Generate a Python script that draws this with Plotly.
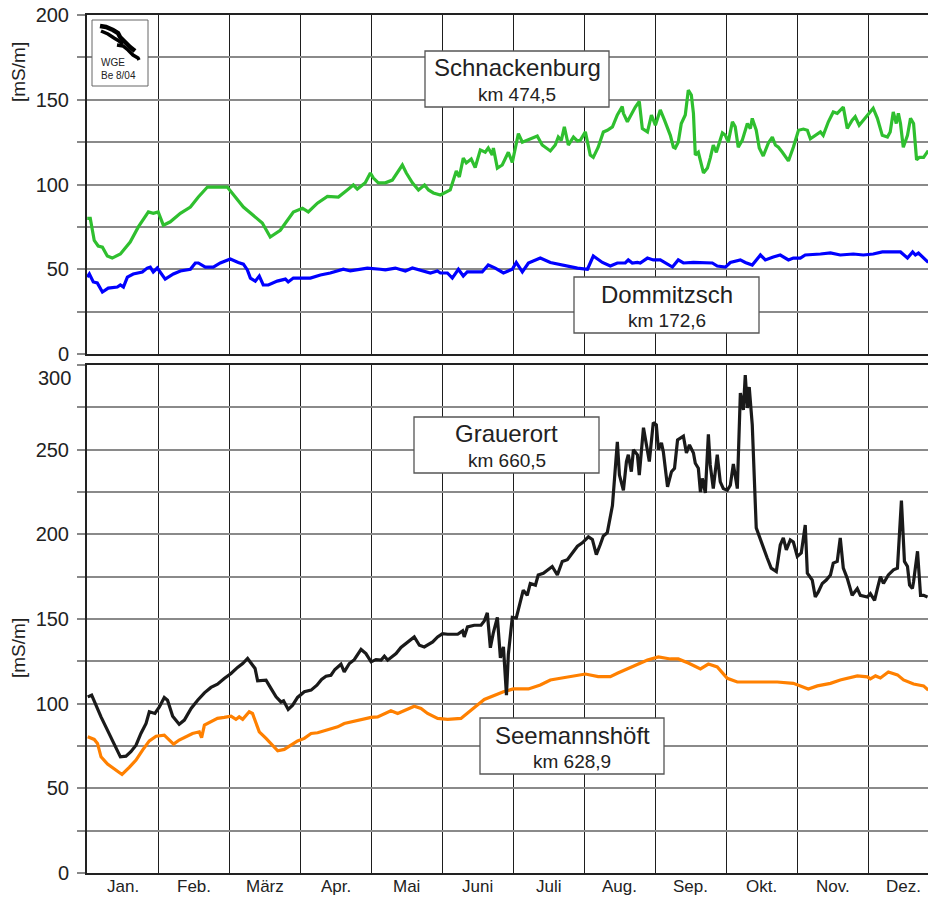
import plotly.graph_objects as go

# ---------------- data (day of year, conductivity mS/m) ----------------
month_labels = ["Jan.", "Feb.", "März", "Apr.", "Mai", "Juni", "Juli", "Aug.", "Sep.", "Okt.", "Nov.", "Dez."]

schn_day = [0.1, 1.4, 3.1, 4.8, 6.6, 8.7, 10.8, 14.3, 18.5, 22, 26.3, 28.4, 30.5, 32.7, 35.7, 40, 44.3, 47.7, 51.6, 60.1,
            67, 75.1, 78.5, 82.8, 88.4, 92.3, 94.8, 98.7, 103, 107.7, 111.5, 114.1, 115.8, 119.2, 121.4, 122.7, 124.8,
            127.8, 130.8, 132.9, 135.1, 136.8, 139.4, 142, 144.6, 146.3, 148.4, 151.4, 154.4, 155.6, 158.2, 159.5, 161.2,
            162.5, 164.6, 166.3, 168.5, 170.6, 171.9, 173.6, 174.1, 175.8, 177.9, 180.5, 182.2, 184.8, 186.5, 192.9, 195,
            198.5, 200.6, 201.9, 203.2, 204.5, 206.2, 208.4, 210.1, 211.3, 213.5, 215.6, 216.9, 219, 221.2, 222.9, 225.1,
            227.2, 229.3, 229.8, 231.5, 233.6, 234.9, 236.6, 237.9, 240.1, 241.8, 243.5, 245.6, 247.4, 249.9, 251.2, 252,
            253.3, 254.6, 256.3, 257.6, 258.9, 259.8, 260.6, 261.9, 264.1, 265.8, 267, 268.3, 269.6, 272.2, 273.5, 274.7,
            276.5, 277.7, 279, 280.7, 282.9, 284.2, 285, 286.7, 288, 289.7, 291.9, 293.6, 294.9, 296.2, 297.9, 300.5,
            302.6, 304.8, 306.9, 308.6, 309.9, 312, 314.2, 315.4, 317.6, 319.7, 321.4, 324, 325.7, 327.8, 329.1, 330.8,
            333.4, 335.5, 336.8, 338.6, 340.7, 342.9, 344.1, 345.4, 346.7, 347.6, 348.5, 349.7, 351.5, 352.8, 354.1,
            355.4, 356.6, 358.4, 360.4]
schn_val = [80, 80, 67, 63.7, 63, 57.8, 56.6, 59, 66, 75, 83.8, 83, 83.8, 76, 78, 83, 86.7, 92.6, 98.5, 98.5,
            86.7, 77.3, 69, 73, 83.8, 86, 83.8, 89, 93, 92.6, 96.8, 99.7, 97.3, 101, 106.8, 103.8, 101,
            101, 102.6, 107, 111.5, 106.8, 101, 96.8, 99.7, 96.8, 95, 93.8, 95.6, 96.8, 108, 104.4, 115.6,
            112.7, 115, 110, 120.4, 119, 121.5, 117.4, 121.5, 109.7, 111.5, 119, 113, 130, 125, 128.6, 123.3,
            119.8, 123.3, 128, 126, 134, 123.3, 128, 125.7, 126, 131, 117.4, 116, 122, 131, 132, 134,
            141, 146, 142, 137, 143, 145.7, 149, 133, 131, 141, 135, 144, 138, 129, 122, 121.5,
            125, 136, 141, 155.7, 152.8, 142, 117.4, 119, 106.8, 109.7, 115.6, 123.3, 119, 130.4, 129, 125,
            137, 134, 122, 126, 136, 133, 139, 132, 121.5, 116.8, 124.5, 128, 123.3, 122, 119, 113.9,
            122, 132, 132.7, 132, 127, 129, 131, 129, 137, 142.8, 142, 145.7, 133, 138, 140, 135,
            139, 142.8, 145, 139, 129, 128, 131, 142.8, 136, 142, 136, 122, 129, 139, 136,
            114.5, 116, 116, 120]

domm_day = [0.1, 1, 2.7, 4.4, 6.6, 9.1, 13, 14.3, 15.6, 17.3, 19.8, 23.7, 25.8, 27.1, 28.4, 30.1, 33.5, 37, 40, 44.3,
            46.4, 47.7, 50.7, 54.1, 57.1, 61.4, 64.8, 67, 68.7, 70, 72.1, 73.8, 75.5, 77.7, 81.5, 85, 86.2, 88.4, 95.7,
            100, 104.2, 109.8, 112.8, 120.1, 125.6, 127.8, 132.1, 136.4, 139.4, 142.8, 147.1, 150.1, 151.4, 154.4,
            156.5, 159.1, 161.2, 162.9, 169.3, 171.9, 174.9, 178.4, 182.2, 183.9, 186.5, 189.1, 194.2, 198.5, 210.1,
            214.4, 216.9, 220.8, 224.2, 227.2, 230.6, 231.9, 233.6, 235.8, 237, 240.1, 242.6, 245.6, 247.8, 250.8,
            253.3, 255.5, 259.8, 264.1, 267.9, 270, 273.5, 275.6, 279.9, 282, 285, 288.5, 290.6, 294, 297, 300.5,
            302.6, 305.6, 307.7, 314.2, 318.5, 322.7, 328.3, 332.6, 336.8, 340.7, 348.5, 351.5, 353.7, 354.9, 356.2,
            360.4]
domm_val = [45.4, 47.2, 42.5, 41.9, 36.6, 38.9, 39.5, 40.7, 39.5, 45.4, 47.2, 48.4, 50.7, 51.3, 48.4, 50.7, 44.2, 47.2, 49, 50,
            53.7, 53.7, 51.3, 51.3, 53.7, 56, 54, 53, 49.6, 44.8, 43, 46, 40.7, 40.7, 43, 44.2, 42.5, 44.8, 44.8,
            46.6, 47.8, 50, 49, 50.7, 50, 49.6, 50.7, 49, 50.7, 49.6, 47.8, 49, 47.8, 47.8,
            44.8, 50, 46, 48.4, 48.4, 52.5, 50.7, 47.8, 50, 54, 48.4, 53.7, 56.6, 54, 50.7,
            50, 57.8, 54, 51.9, 53.7, 53.7, 55.5, 53.7, 54, 53.7, 56.6, 55.5, 55.5, 53.7, 51.3,
            55.5, 53.7, 54, 53.7, 53.7, 51.9, 51.3, 54, 55.5, 54, 52.5, 58.4, 55.5, 57.2, 58.4, 55.5,
            56.6, 56.6, 58.4, 59, 59.6, 58.4, 59, 58.4, 59, 60.2, 60.2, 56.6, 60.2, 58.4, 59.6,
            54]

grau_day = [0.3, 2, 6, 10.3, 14.3, 16.7, 18.8, 21, 23.1, 25.3, 26.7, 29.1, 31, 33.1, 34.5, 36.7, 39.5, 41.7, 44.6, 47.4,
            50.3, 53.1, 55.9, 58.8, 61.7, 64.5, 66.7, 68.8, 70.3, 72, 73.1, 76.7, 78.8, 81, 83.1, 84.2, 86.2, 88.1, 90.2,
            93.1, 96, 98.5, 100.5, 102.4, 104.5, 106.2, 108.8, 110.2, 112.4, 114.5, 117.4, 119.5, 121.7, 123.8, 126,
            127.4, 128.8, 132.4, 134.5, 136.7, 140.2, 142.4, 144.5, 148.1, 150.2, 152.3, 154.5, 158.8, 160.9, 161.6,
            163, 165.9, 168.8, 170.2, 171.5, 172.8, 174.1, 175.8, 177.1, 178.4, 179.7, 180.5, 182.2, 183.9, 186.9,
            188.6, 189.9, 192.1, 193.3, 195.5, 199.3, 201.5, 203.6, 205.8, 207.9, 210.1, 212.2, 214.8, 216.5, 218.2,
            219.9, 221.2, 222.9, 225.1, 226, 227.2, 228.1, 229.8, 231.1, 231.9, 233.2, 234.1, 235.8, 236.6, 238.4,
            240.1, 240.9, 242.6, 243.9, 244.8, 246.1, 246.9, 248.7, 250.4, 251.7, 253, 255.5, 256.8, 258.1, 259.8,
            260.6, 261.9, 262.8, 263.6, 264.9, 266.2, 267, 268.3, 270, 271.3, 272.6, 274.3, 275.6, 276.9, 278.6,
            279.9, 281.2, 282, 282.9, 283.7, 285, 286.7, 288.5, 289.7, 291.4, 293.1, 295.3, 297, 298.3, 299.6,
            301.3, 302.6, 304.3, 306, 307.7, 308.6, 310.7, 312, 313.3, 315, 316.7, 318.5, 319.7, 321.4, 322.7,
            324, 325.7, 327.8, 330, 331.3, 334.3, 335.6, 337.4, 338.6, 339.9, 341.2, 343.3, 345.5, 347.2, 348.9,
            350.2, 351.5, 352.4, 353.6, 354.1, 355.8, 357.1, 358.4, 360.1]
grau_val = [104, 105, 92.2, 80.4, 68.6, 69, 71.6, 75.5, 82.4, 88.3, 95.2, 94.2, 98.1, 103.6, 102, 92.6, 87.9, 90.3, 97.2, 102,
            106.4, 109.6, 111.5, 114.9, 117.8, 121.4, 123.7, 126.7, 123.7, 120.8, 113.5, 113.9, 109, 104, 101, 101.7, 96.6, 99.1, 103.7,
            107, 108, 110.9, 114.3, 116.2, 116.8, 120.2, 123.3, 118.8, 123.7, 126, 132, 129.6, 124.7, 126, 125.7,
            128, 125.7, 129.6, 133.2, 135.5, 139.4, 134.5, 133.5, 136.5, 139.4, 141.4, 141, 141, 143, 139.4,
            145.3, 146.3, 146.3, 148.8, 153.6, 133, 142, 151, 127, 133.5, 105, 129, 151, 150.6, 167,
            164, 171, 170, 176, 177, 181, 176, 184, 185, 189, 193, 195, 198.5, 197, 188,
            194, 199, 201, 217, 233, 254.6, 235, 226, 243, 247, 237, 250, 247, 235, 263,
            248, 243, 266, 264.6, 250, 254, 248.7, 228, 237, 239, 255.7, 258, 248, 252.8, 248,
            242, 239, 225, 233, 224.5, 259, 241, 227, 247, 231, 227, 226, 229, 241.6, 227,
            283.5, 273.5, 294, 274.6, 287, 264.6, 203.8, 196.7, 192, 186, 180, 178, 193.7, 197.9, 190.8,
            196.7, 195.5, 187, 189, 205.5, 177, 173, 163, 166, 171, 173, 176, 183, 184, 197.9,
            180, 174, 164, 168, 164, 163, 165, 161, 168, 175, 171, 176, 179, 180, 220,
            184, 181, 170, 168, 172, 190, 164, 164, 163]

seem_day = [0.3, 3.1, 4.5, 6, 8.8, 11.7, 15, 18.1, 21, 23.8, 26.7, 29.6, 33.1, 35.3, 37.1, 39.5, 42.4, 45.2, 48.1, 49.1,
            50.3, 53.1, 55.9, 58.8, 61.7, 63.8, 65.2, 66.7, 69.5, 70.9, 72.4, 73.8, 76.7, 79.5, 81.7, 84.5, 87.4, 90.2,
            93.1, 96, 98.8, 101.7, 104.5, 107.4, 110.2, 113.1, 115.9, 118.8, 121.7, 124.5, 127.4, 130.2, 133.1, 135.9,
            140.2, 143.1, 145.9, 150.2, 154.5, 160.2, 163, 166.6, 170.2, 174.9, 178.4, 182.6, 189.1, 194.2, 198.5,
            202.8, 207, 213.5, 219, 224.2, 227.2, 231.5, 235.8, 240.1, 244.8, 249.9, 253.3, 257.6, 262.8, 266.2, 270,
            274.3, 278.6, 285.5, 295.7, 302.6, 309, 312.9, 318.5, 322.7, 330, 334.3, 335.6, 337.8, 339.9, 343.3,
            347.2, 349.8, 354.1, 358.4, 360.4]
seem_val = [80.4, 78.9, 76.5, 68.6, 64.3, 61.2, 58.2, 62.4, 66.7, 72.6, 78, 80.8, 81.4, 78.5, 76.1, 78.5, 80.4, 82.4, 83.4, 80,
            87.3, 89.3, 91.3, 91.9, 92.6, 90.7, 92.2, 90.7, 95.2, 94.2, 88.3, 83.4, 79.5, 75.5, 72.2, 73, 75.5, 78,
            79.5, 82.4, 82.8, 84, 85.4, 86.3, 88.3, 89.3, 89.9, 91.3, 91.9, 92.2, 93.8, 95.8, 94.2, 95.8,
            98.5, 97.2, 94.2, 91.3, 90.7, 91.3, 94.2, 98.5, 102.5, 105, 107, 108.7, 108.7, 111, 114,
            115, 115.8, 117.5, 116, 116, 118, 120.5, 123.4, 125.8, 127.6, 126.4, 126.4, 124, 120.5, 123.4, 121.7,
            115, 112.8, 112.8, 112.8, 112, 108.7, 110.5, 112, 114, 116.4, 115.8, 114.6, 116.4, 115.2, 118.7,
            117, 114, 111.6, 110.5, 108]

stations = [
    ("Schnackenburg", "km 474,5"),
    ("Dommitzsch", "km 172,6"),
    ("Grauerort", "km 660,5"),
    ("Seemannshöft", "km 628,9"),
]

# ---------------- layout helpers ----------------
W, H = 929, 897
L, R, T, B = 87, 1, 15, 24
PW, PH = W - L - R, H - T - B
MONTH = 365 / 12
X_END = PW * MONTH / 71.0

def px(x):
    return (x - L) / PW

def py(y):
    return (H - B - y) / PH

FONT = "Liberation Sans, Arial, Helvetica, sans-serif"
GREEN = "#2fbf2f"
BLUE = "#0000ff"
BLACK = "#1a1a1a"
ORANGE = "#ff8000"
LW = 3.2

fig = go.Figure()
fig.add_trace(go.Scatter(x=schn_day, y=schn_val, mode="lines", line=dict(color=GREEN, width=LW),
                         xaxis="x2", yaxis="y2", showlegend=False))
fig.add_trace(go.Scatter(x=domm_day, y=domm_val, mode="lines", line=dict(color=BLUE, width=LW),
                         xaxis="x2", yaxis="y2", showlegend=False))
fig.add_trace(go.Scatter(x=seem_day, y=seem_val, mode="lines", line=dict(color=ORANGE, width=LW),
                         xaxis="x", yaxis="y", showlegend=False))
fig.add_trace(go.Scatter(x=grau_day, y=grau_val, mode="lines", line=dict(color=BLACK, width=LW),
                         xaxis="x", yaxis="y", showlegend=False))

top_dom = [py(354), 1.0]
bot_dom = [0.0, py(365)]

month_centers = [MONTH * (i + 0.5) for i in range(12)]

xcommon = dict(range=[0, X_END], showline=True, linecolor="#222", linewidth=2, mirror=True,
               ticks="", showgrid=False, zeroline=False, showticklabels=False, automargin=False,
               minor=dict(tickmode="linear", tick0=0, dtick=MONTH, showgrid=True,
                          gridcolor="#1e1e1e", gridwidth=1.2, ticks=""))
ycommon = dict(showline=True, linecolor="#222", linewidth=2, zeroline=False, automargin=False,
               ticks="outside", ticklen=8, tickcolor="#888", tickwidth=1.5,
               showgrid=True, gridcolor="#8a8a8a", gridwidth=1.5,
               tickfont=dict(family=FONT, size=20, color="#222"),
               ticklabelstandoff=4,
               minor=dict(tickmode="linear", tick0=0, dtick=25, showgrid=True, gridcolor="#8a8a8a",
                          gridwidth=1.5, ticks="outside", ticklen=8, tickcolor="#888", tickwidth=1.5))

fig.update_layout(
    width=W, height=H,
    margin=dict(l=L, r=R, t=T, b=B, autoexpand=False),
    paper_bgcolor="white", plot_bgcolor="white",
    xaxis=dict(domain=[0, 1], anchor="y", **xcommon),
    yaxis=dict(domain=bot_dom, anchor="x", range=[0, 300], tickmode="array",
               tickvals=[0, 50, 100, 150, 200, 250, 300], ticktext=["0", "50", "100", "150", "200", "250", ""],
               **ycommon),
    xaxis2=dict(domain=[0, 1], anchor="y2", matches="x", **xcommon),
    yaxis2=dict(domain=top_dom, anchor="x2", range=[0, 200], tickmode="linear", tick0=0, dtick=50, **ycommon),
)

shapes = []
annotations = []

# month labels below the lower panel, placed on the x scale
for xc, lab in zip(month_centers, month_labels):
    annotations.append(dict(xref="x", yref="paper", x=xc, y=py(886), text=lab, showarrow=False,
                            xanchor="center", yanchor="middle", font=dict(family=FONT, size=17, color="#222")))

# station label boxes
boxes = [
    (425, 609, 51, 107),
    (574, 759, 277, 333),
    (414, 599, 417, 473),
    (480, 664, 718, 774),
]
for (name, km), (x0, x1, y0, y1) in zip(stations, boxes):
    shapes.append(dict(type="rect", xref="paper", yref="paper", x0=px(x0), x1=px(x1), y0=py(y1), y1=py(y0),
                       fillcolor="white", line=dict(color="#555", width=1.3), layer="above"))
    cx = px((x0 + x1) / 2)
    annotations.append(dict(xref="paper", yref="paper", x=cx, y=py(y0 + 17), text=name, showarrow=False,
                            xanchor="center", yanchor="middle", font=dict(family=FONT, size=24, color="#222")))
    annotations.append(dict(xref="paper", yref="paper", x=cx, y=py(y0 + 43), text=km, showarrow=False,
                            xanchor="center", yanchor="middle", font=dict(family=FONT, size=19, color="#222")))

# logo
shapes.append(dict(type="rect", xref="paper", yref="paper", x0=px(92), x1=px(148), y0=py(86), y1=py(20),
                   fillcolor="white", line=dict(color="#666", width=1), layer="above"))

def pathstr(pts):
    return "M " + " L ".join(f"{px(a):.5f},{py(b):.5f}" for a, b in pts)

strokes = [
    ([(100, 26), (106, 27), (113, 30), (118, 33), (120, 37), (125, 42), (130, 47), (135, 51)], 4.5),
    ([(101, 31), (108, 34), (114, 38), (119, 41), (123, 44)], 3.5),
    ([(117, 45), (123, 46), (128, 50), (133, 55), (138, 58), (139, 60)], 3.5),
]
for pts, w in strokes:
    shapes.append(dict(type="path", xref="paper", yref="paper", path=pathstr(pts),
                       line=dict(color="black", width=w), layer="above"))
annotations.append(dict(xref="paper", yref="paper", x=px(99), y=py(63), text="WGE", showarrow=False,
                        xanchor="left", yanchor="middle", font=dict(family=FONT, size=10, color="#222")))
annotations.append(dict(xref="paper", yref="paper", x=px(99), y=py(76), text="Be 8/04", showarrow=False,
                        xanchor="left", yanchor="middle", font=dict(family=FONT, size=10, color="#222")))

# axis titles
for yc in (72, 648):
    annotations.append(dict(xref="paper", yref="paper", x=px(18), y=py(yc), text="[mS/m]", showarrow=False,
                            textangle=-90, xanchor="center", yanchor="middle",
                            font=dict(family=FONT, size=19, color="#222")))
# top label of lower panel (shifted down as in the original)
annotations.append(dict(xref="paper", yref="paper", x=px(73), y=py(378), text="300", showarrow=False,
                        xanchor="right", yanchor="middle", font=dict(family=FONT, size=20, color="#222")))

fig.update_layout(shapes=shapes, annotations=annotations)

fig.write_html("out.html", config={"displayModeBar": False},
               post_script="document.body.style.margin='0';document.body.style.overflow='hidden';")
